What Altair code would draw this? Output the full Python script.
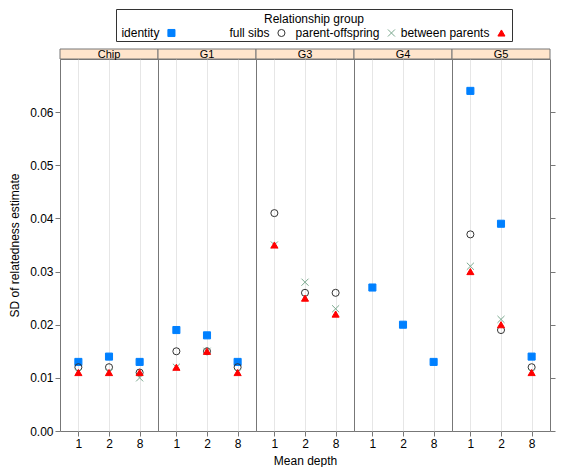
import altair as alt
import pandas as pd

panels = ["Chip", "G1", "G3", "G4", "G5"]
depths = ["1", "2", "8"]
groups = ["identity", "full sibs", "parent-offspring", "between parents"]

# values: panel-major (Chip, G1, G3, G4, G5), depth 1, 2, 8 within each panel
identity         = [0.013, 0.014, 0.013, 0.019, 0.018, 0.013, None, None, None, 0.027, 0.020, 0.013, 0.064, 0.039, 0.014]
full_sibs        = [0.012, 0.012, 0.011, 0.015, 0.015, 0.012, 0.041, 0.026, 0.026, None, None, None, 0.037, 0.019, 0.012]
parent_offspring = [0.011, 0.011, 0.010, 0.012, 0.015, 0.011, 0.035, 0.028, 0.023, None, None, None, 0.031, 0.021, 0.011]
between_parents  = [0.011, 0.011, 0.011, 0.012, 0.015, 0.011, 0.035, 0.025, 0.022, None, None, None, 0.030, 0.020, 0.011]

series = [identity, full_sibs, parent_offspring, between_parents]
rows = []
for g, vals in zip(groups, series):
    for i, v in enumerate(vals):
        if v is None:
            continue
        rows.append({"group": g, "panel": panels[i // 3], "depth": depths[i % 3], "sd": v})
df = pd.DataFrame(rows)

FONT = "Liberation Sans"
shape_range = ["square", "circle", "M-1,-1L1,1M-1,1L1,-1", "triangle-up"]
fill_range = ["#0080ff", "transparent", "transparent", "#ff0000"]
stroke_range = ["#0080ff", "#333333", "#7aa88e", "#ff0000"]
size_range = [50, 50, 60, 80]

def sym_enc():
    return dict(
        shape=alt.Shape("group:N", scale=alt.Scale(domain=groups, range=shape_range), legend=None),
        fill=alt.Fill("group:N", scale=alt.Scale(domain=groups, range=fill_range), legend=None),
        stroke=alt.Stroke("group:N", scale=alt.Scale(domain=groups, range=stroke_range), legend=None),
        size=alt.Size("group:N", scale=alt.Scale(domain=groups, range=size_range), legend=None),
    )

W = 98
H = 372
STRIP = 10
yticks = [0, 0.01, 0.02, 0.03, 0.04, 0.05, 0.06]

panel_charts = []
for k, p in enumerate(panels):
    sub = df[df["panel"] == p]
    yscale = alt.Scale(domain=[0, 0.07], nice=False, zero=True)
    if k == 0:
        y_enc = alt.Y("sd:Q", scale=yscale, axis=alt.Axis(
            values=yticks, format=".2f", title="SD of relatedness estimate",
            grid=False, domain=False, titlePadding=8))
    elif k == len(panels) - 1:
        y_enc = alt.Y("sd:Q", scale=yscale, axis=alt.Axis(
            values=yticks, orient="right", labels=False, title=None, grid=False, domain=False))
    else:
        y_enc = alt.Y("sd:Q", scale=yscale, axis=None)
    xaxis = alt.Axis(labelAngle=0, grid=True, gridColor="#e6e6e6", domain=False,
                     title="Mean depth" if p == "G3" else None, titlePadding=6)
    pts = alt.Chart(sub).mark_point(filled=False, opacity=1, strokeWidth=1).encode(
        x=alt.X("depth:N", sort=depths, scale=alt.Scale(type="point", padding=0.6), axis=xaxis),
        y=y_enc,
        **sym_enc(),
    )
    strip_df = pd.DataFrame({"panel": [p]})
    strip = alt.Chart(strip_df).mark_rect(fill="#ffe5cc", stroke="#777777", strokeWidth=1).encode(
        x=alt.value(0), x2=alt.value(W), y=alt.value(-STRIP), y2=alt.value(0)
    )
    strip_text = alt.Chart(strip_df).mark_text(fontSize=11, font=FONT, baseline="middle", color="#000").encode(
        text="panel:N", x=alt.value(W / 2), y=alt.value(-STRIP / 2 + 0.5)
    )
    panel_charts.append(alt.layer(pts, strip, strip_text).properties(width=W, height=H))

plots = alt.hconcat(*panel_charts, spacing=0, bounds="flush")

# legend (key) box
leg_df = pd.DataFrame({"group": groups})
LW, LH = 396, 32
lx = alt.X("group:N", sort=groups, scale=alt.Scale(type="point", padding=0.3, align=0.84), axis=None)
leg_text = alt.Chart(leg_df).mark_text(align="right", baseline="middle", dx=-12, fontSize=12, font=FONT, color="#000").encode(
    x=lx, y=alt.value(24), text="group:N"
)
leg_sym = alt.Chart(leg_df).mark_point(filled=False, opacity=1, strokeWidth=1).encode(
    x=lx, y=alt.value(24), **sym_enc()
)
title_df = pd.DataFrame({"t": ["Relationship group"]})
leg_title = alt.Chart(title_df).mark_text(fontSize=12, font=FONT, baseline="middle", color="#000").encode(
    text="t:N", x=alt.value(LW / 2), y=alt.value(10)
)
legend = alt.layer(leg_title, leg_text, leg_sym).properties(
    width=LW, height=LH, view=alt.ViewBackground(stroke="#333333", strokeWidth=1)
)
spacer = alt.Chart(pd.DataFrame({"a": [0]})).mark_point(opacity=0).encode(
    x=alt.X("a:Q", axis=None), y=alt.Y("a:Q", axis=None)
).properties(width=56, height=LH, view=alt.ViewBackground(strokeOpacity=0))
legend_row = alt.hconcat(spacer, legend, spacing=0, bounds="flush")

chart = alt.vconcat(legend_row, plots, spacing=6).properties(padding=0).configure(
    font=FONT
).configure_view(
    stroke="#777777", strokeWidth=1
).configure_axis(
    labelFontSize=12, titleFontSize=12, titleFontWeight="normal", labelColor="#000",
    titleColor="#000", tickColor="#777777", labelFont=FONT, titleFont=FONT, tickSize=5
)

chart.save("out.html", embed_options={"renderer": "svg", "actions": False})
